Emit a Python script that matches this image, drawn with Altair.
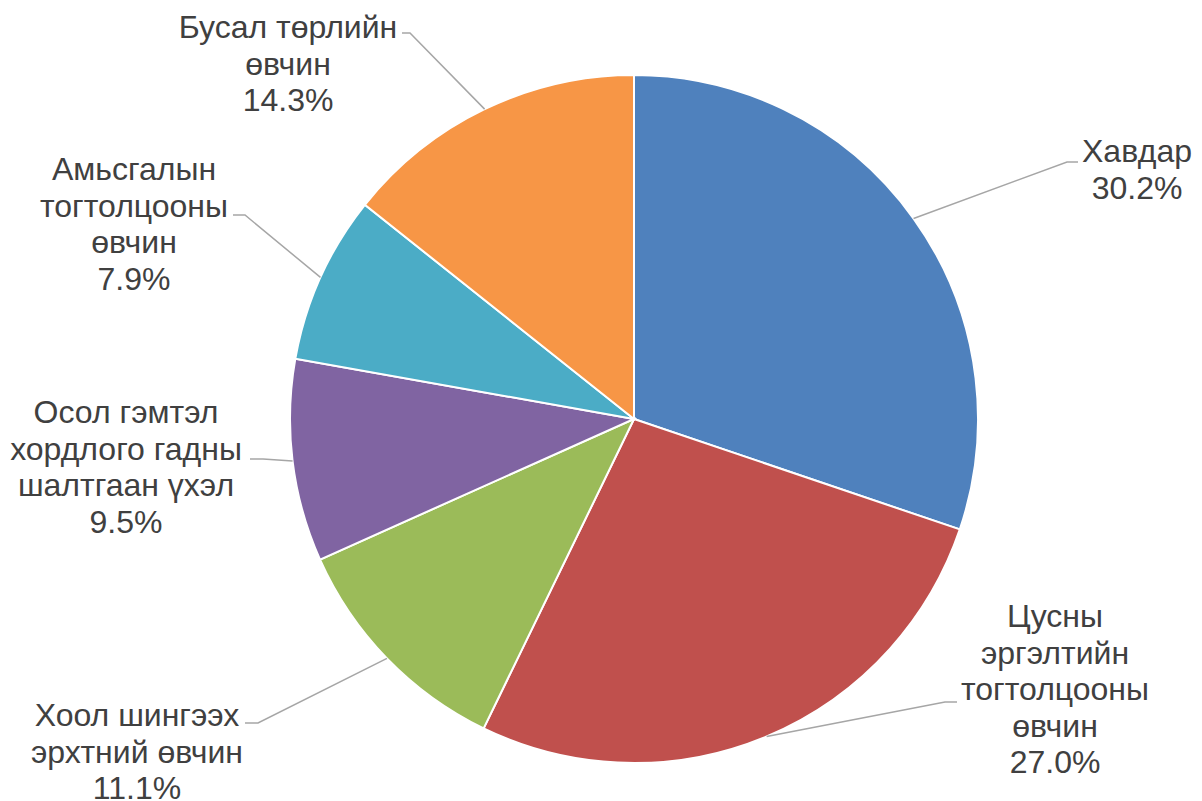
import math
import altair as alt
import pandas as pd

# ---- data ----
categories = [
    "Хавдар",
    "Цусны\nэргэлтийн\nтогтолцооны\nөвчин",
    "Хоол шингээх\nэрхтний өвчин",
    "Осол гэмтэл\nхордлого гадны\nшалтгаан үхэл",
    "Амьсгалын\nтогтолцооны\nөвчин",
    "Бусал төрлийн\nөвчин",
]
values = [30.2, 27.0, 11.1, 9.5, 7.9, 14.3]
colors = ["#4F81BD", "#C0504D", "#9BBB59", "#8064A2", "#4BACC6", "#F79646"]

# ---- layout (pixels relative to pie centre, y downward) ----
W, H = 1186, 793
CX, CY = 626, 411
R = 344
# position of the first text line of each label
label_pos = [(503, -267), (421, 198), (-497, 297), (-508, -6), (-500, -249), (-346, -391)]
elbow_pos = [(433, -257), (311, 283), (-376, 304), (-371, 40), (-389, -204), (-224, -386)]
end_pos = [(444, -257), (323, 283), (-389, 304), (-384, 40), (-401, -204), (-232, -386)]

total = sum(values)
pie_df = pd.DataFrame({"cat": categories, "value": values, "idx": range(len(values))})

line_rows, text_rows = [], []
cum = 0.0
for i, (c, v) in enumerate(zip(categories, values)):
    mid = (cum + v / 2) / total * 2 * math.pi
    cum += v
    sx, sy = R * math.sin(mid), -R * math.cos(mid)
    pts = [(sx, sy), elbow_pos[i], end_pos[i]]
    for k, (px, py) in enumerate(pts):
        line_rows.append({"cat": c, "k": k, "lx": px, "ly": py})
    text_rows.append({"cat": c, "tx": label_pos[i][0], "ty": label_pos[i][1],
                      "label": f"{c}\n{v:.1f}%"})
line_df = pd.DataFrame(line_rows)
text_df = pd.DataFrame(text_rows)

xs = alt.Scale(domain=[-CX, W - CX], nice=False, zero=False)
ys = alt.Scale(domain=[H - CY, -CY], nice=False, zero=False)

pie = alt.Chart(pie_df).mark_arc(outerRadius=R, stroke="white", strokeWidth=2).encode(
    theta=alt.Theta("value:Q", stack=True),
    color=alt.Color("cat:N", scale=alt.Scale(domain=categories, range=colors), legend=None),
    order=alt.Order("idx:Q"),
    x=alt.value(CX),
    y=alt.value(CY),
)

leaders = alt.Chart(line_df).mark_line(color="#A6A6A6", strokeWidth=1.5).encode(
    x=alt.X("lx:Q", scale=xs, axis=None),
    y=alt.Y("ly:Q", scale=ys, axis=None),
    detail="cat:N",
    order="k:Q",
)

texts = alt.Chart(text_df).mark_text(
    font="Liberation Sans", fontSize=32, lineHeight=36.5, color="#404040",
    align="center", baseline="middle", lineBreak="\n",
).encode(
    x=alt.X("tx:Q", scale=xs, axis=None),
    y=alt.Y("ty:Q", scale=ys, axis=None),
    text="label:N",
)

chart = alt.layer(pie, leaders, texts).properties(
    width=W, height=H, padding=0, autosize=alt.AutoSizeParams(type="none")
).configure_view(stroke=None)

chart.save("out.html", embed_options={"renderer": "svg", "actions": False})
